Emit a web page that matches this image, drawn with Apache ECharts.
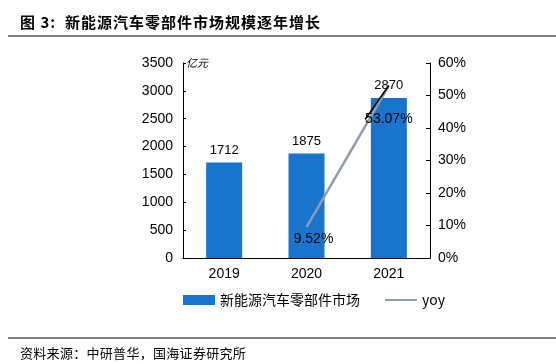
<!DOCTYPE html>
<html>
<head>
<meta charset="utf-8">
<script src="https://cdn.jsdelivr.net/npm/echarts@6/dist/echarts.min.js"></script>
<style>
  html, body { margin: 0; padding: 0; background: #fff; }
  #box { width: 556px; height: 364px; position: relative; }
  #chart { width: 556px; height: 364px; position: absolute; left: 0; top: 0; }
  .title { position: absolute; left: 20px; top: 11px; font: bold 15px "Noto Sans CJK SC", sans-serif; letter-spacing: 1px; color: #000; z-index: 2; }
  .rule { position: absolute; left: 8px; right: 0; height: 2px; background: #7f7f7f; z-index: 2; }
  .src { position: absolute; left: 20px; top: 343px; font: 13px "Noto Sans CJK SC", sans-serif; letter-spacing: 0.3px; color: #000; z-index: 2; }
</style>
</head>
<body>
<div id="box">
  <div id="chart"></div>
  <div class="title">图 3:&nbsp; 新能源汽车零部件市场规模逐年增长</div>
  <div class="rule" style="top:35px"></div>
  <div class="rule" style="top:337px"></div>
  <div class="src">资料来源：中研普华，国海证券研究所</div>
</div>
<script>
// 数据
const years = ["2019", "2020", "2021"];
const marketSize = [1712, 1875, 2870];
const yoy = [null, 9.52, 53.07];
const leftTicks = [0, 3500, 500];
const rightTicks = [0, 60, 10];

var chart = echarts.init(document.getElementById("chart"));
var font = "Liberation Sans, Arial, sans-serif";

// 只有 2021 的标签带引线
var yoyData = yoy.map((v, i) => (i === 2 ? v : { value: v, labelLine: { show: false } }));

var option = {
  animation: false,
  grid: { left: 183, right: 126, top: 63, bottom: 106 },
  legend: {
    bottom: 52,
    left: 178,
    itemGap: 24,
    itemWidth: 32,
    itemHeight: 10,
    textStyle: { fontSize: 14, color: "#000", fontFamily: "Noto Sans CJK SC" },
    data: [
      { name: "新能源汽车零部件市场", icon: "rect" },
      { name: "yoy", itemStyle: { opacity: 0 } },
    ],
  },
  xAxis: {
    type: "category",
    data: years,
    axisLine: { lineStyle: { color: "#000" } },
    axisTick: { show: false },
    axisLabel: { fontSize: 14, color: "#000", fontFamily: font, margin: 9 },
  },
  yAxis: [
    {
      type: "value",
      min: leftTicks[0],
      max: leftTicks[1],
      interval: leftTicks[2],
      name: "亿元",
      nameLocation: "end",
      nameGap: 0,
      nameTextStyle: { fontSize: 11, color: "#000", fontStyle: "italic", align: "left", verticalAlign: "middle", padding: [0, 0, 0, 3], fontFamily: "Noto Sans CJK SC" },
      splitLine: { show: false },
      axisLine: { show: true, lineStyle: { color: "#000" } },
      axisTick: { show: true, inside: true, length: 3, lineStyle: { color: "#000" } },
      axisLabel: { fontSize: 14, color: "#000", fontFamily: font, margin: 10, formatter: (v) => String(v) },
    },
    {
      type: "value",
      min: rightTicks[0],
      max: rightTicks[1],
      interval: rightTicks[2],
      splitLine: { show: false },
      axisLine: { show: true, lineStyle: { color: "#000" } },
      axisTick: { show: true, inside: true, length: 4, lineStyle: { color: "#000" } },
      axisLabel: { fontSize: 14, color: "#000", fontFamily: font, margin: 8, formatter: "{value}%" },
    },
  ],
  series: [
    {
      name: "新能源汽车零部件市场",
      type: "bar",
      data: marketSize,
      barWidth: 36,
      itemStyle: { color: "#1874CD" },
      label: { show: true, position: "top", distance: 6, fontSize: 13, color: "#000", fontFamily: font },
    },
    {
      name: "yoy",
      type: "line",
      yAxisIndex: 1,
      data: yoyData,
      symbol: "circle",
      symbolSize: 0,
      showSymbol: true,
      lineStyle: { color: "#8E9BB1", width: 2.5 },
      itemStyle: { color: "#8E9BB1" },
      z: 3,
      label: {
        show: true,
        position: "bottom",
        distance: 5,
        fontSize: 14,
        color: "#000",
        fontFamily: font,
        formatter: (p) => p.value.toFixed(2) + "%",
      },
      labelLayout: (p) => (p.dataIndex === 2 ? { dy: 22 } : { dx: 7 }),
      labelLine: { show: true, lineStyle: { color: "#000", width: 1.5 } },
    },
  ],
};
chart.setOption(option);
</script>
</body>
</html>
